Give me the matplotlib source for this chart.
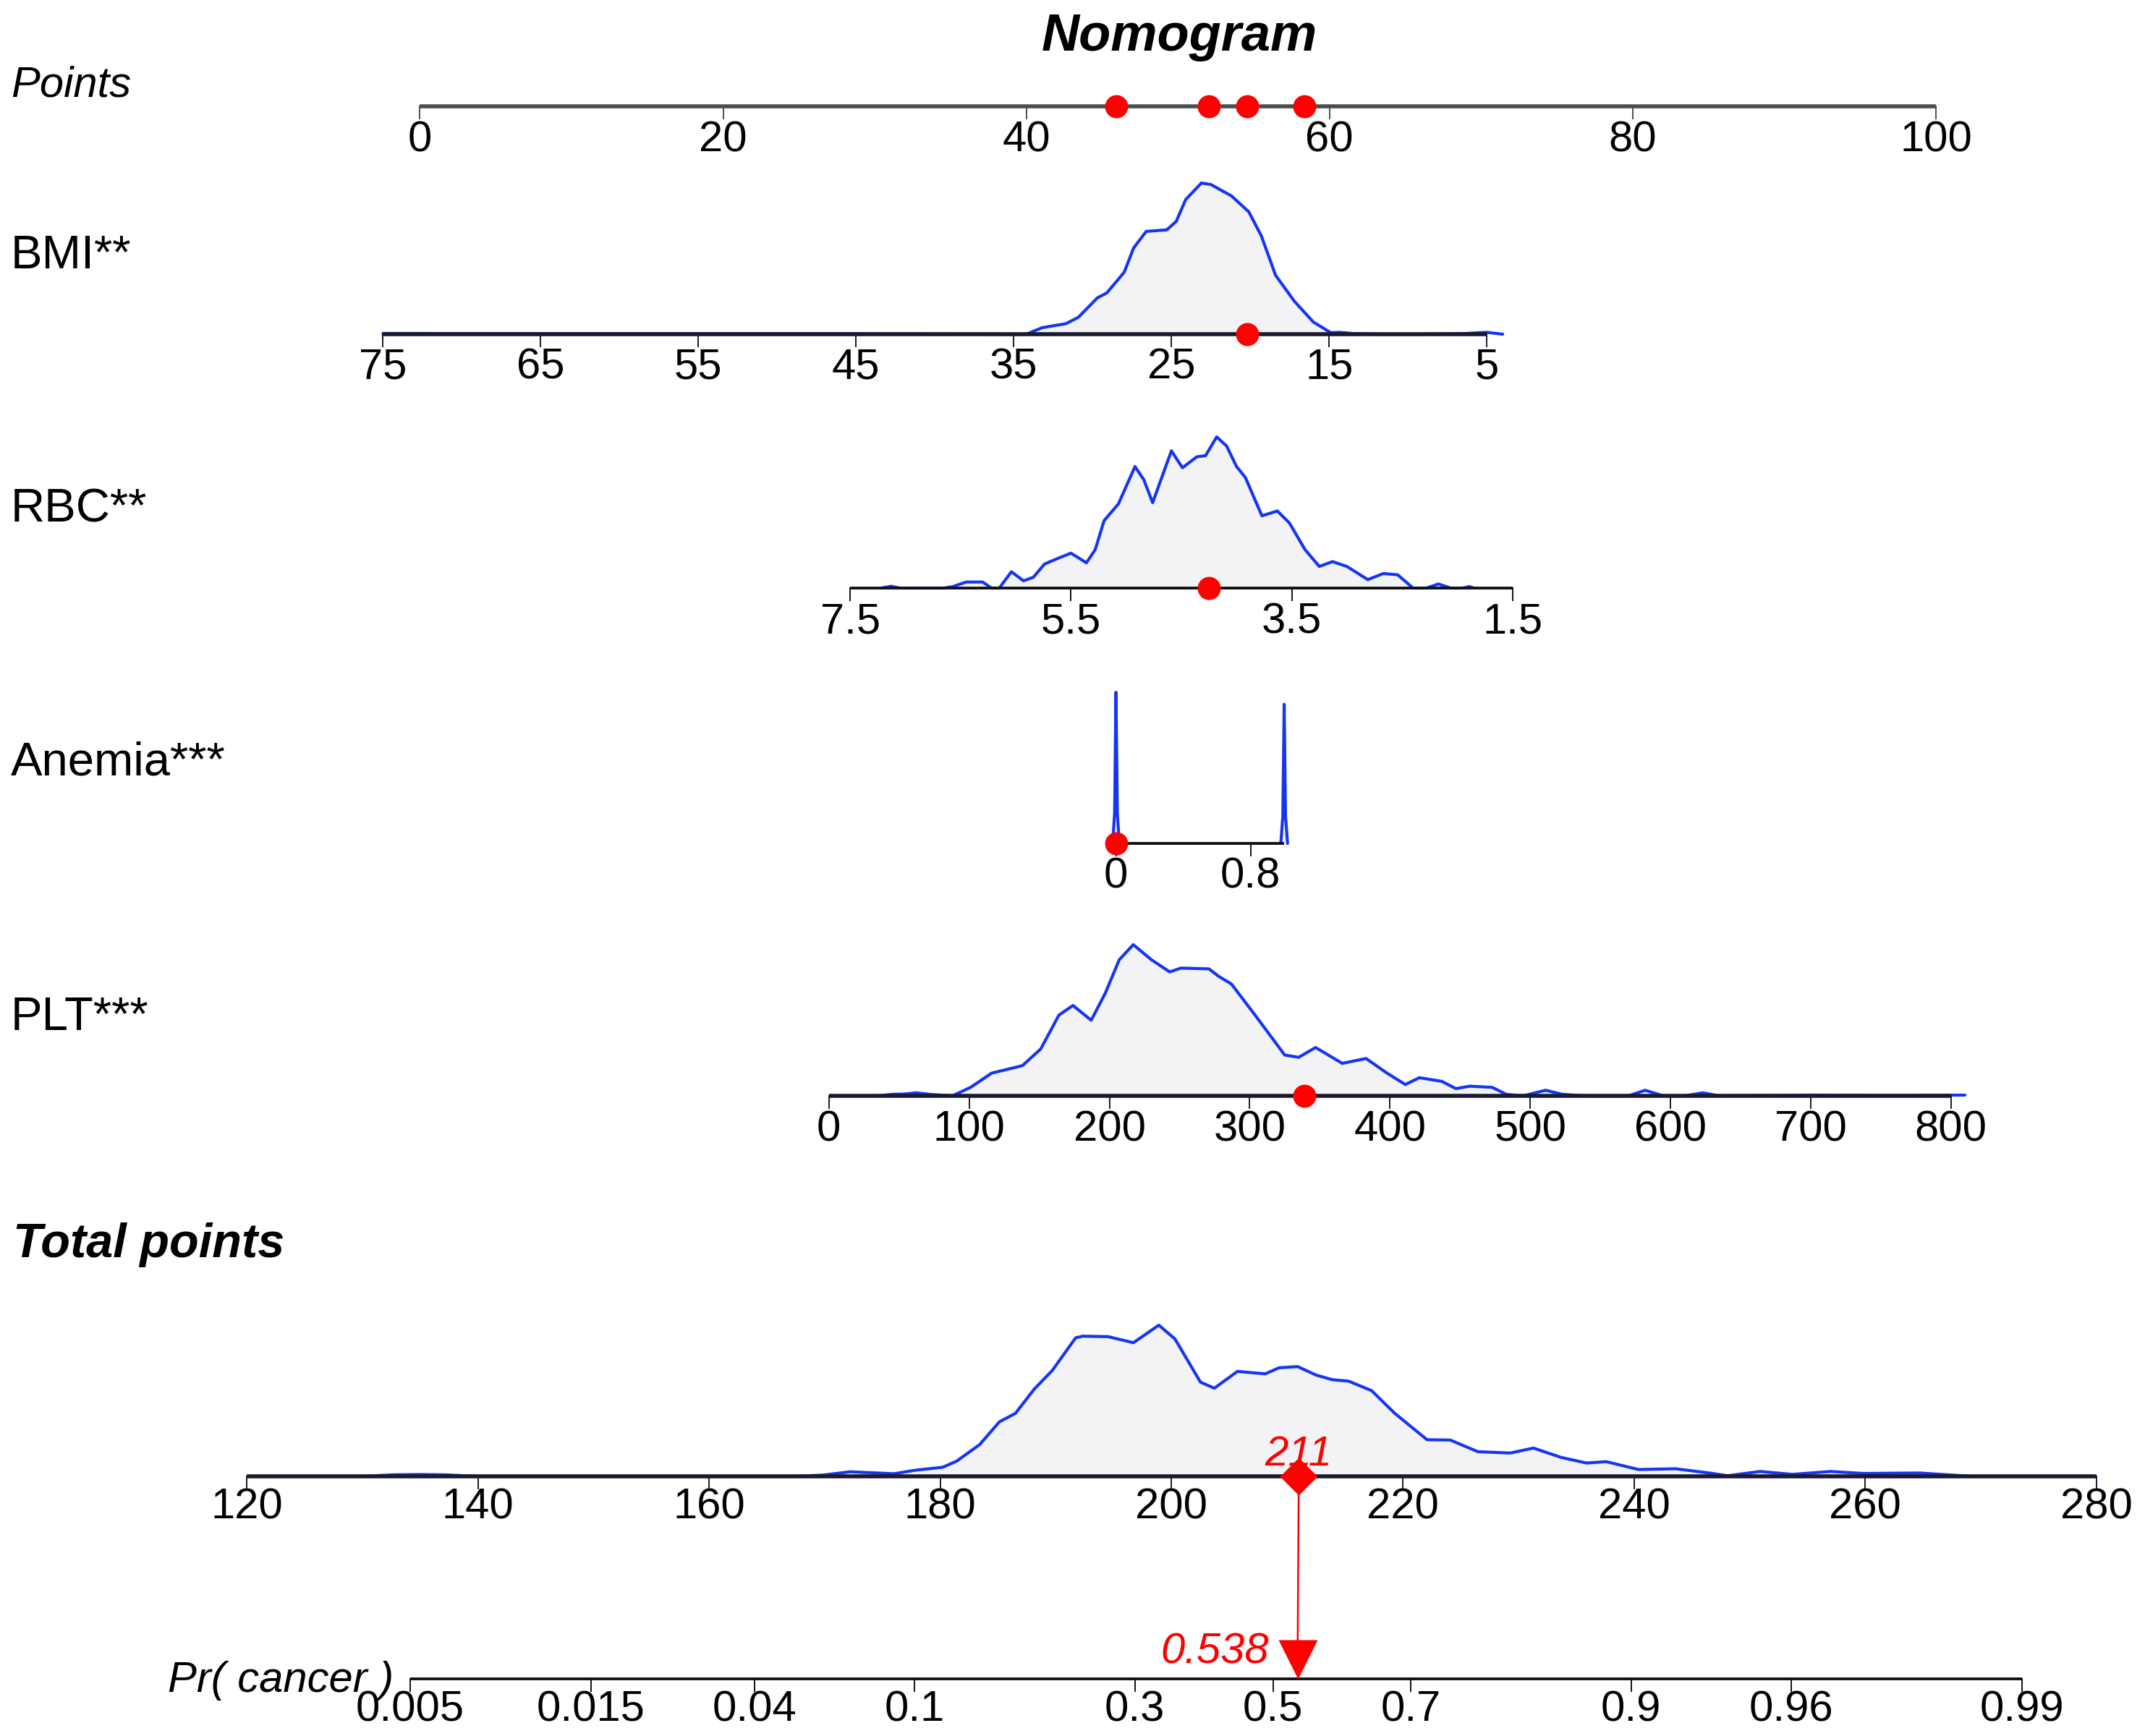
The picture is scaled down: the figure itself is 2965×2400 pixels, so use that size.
import numpy as np
import matplotlib
matplotlib.use('Agg')
import matplotlib.pyplot as plt
from matplotlib.patches import ConnectionPatch
from matplotlib.transforms import offset_copy

plt.rcParams['font.family'] = ['Liberation Sans', 'DejaVu Sans']

# ---------------- data ----------------
title = 'Nomogram'
row_labels = ['Points', 'BMI**', 'RBC**', 'Anemia***', 'PLT***', 'Total points', 'Pr( cancer )']

points_ticks = [0, 20, 40, 60, 80, 100]
bmi_ticks = [75, 65, 55, 45, 35, 25, 15, 5]
rbc_ticks = [7.5, 5.5, 3.5, 1.5]
anemia_ticks = [0, 0.8]
plt_ticks = [0, 100, 200, 300, 400, 500, 600, 700, 800]
total_ticks = [120, 140, 160, 180, 200, 220, 240, 260, 280]
pr_ticks = [0.005, 0.015, 0.04, 0.1, 0.3, 0.5, 0.7, 0.9, 0.96, 0.99]
pr_tick_labels = ['0.005', '0.015', '0.04', '0.1', '0.3', '0.5', '0.7', '0.9', '0.96', '0.99']

# patient values
bmi_value = 20.2
rbc_value = 4.25
anemia_value = 0
plt_value = 339
total_points_value = 211
pr_value = 0.538

# densities (relative height)
bmi_x = [4.0, 5.0, 6.5, 9, 12, 13.5, 14.3, 14.9, 16.0, 17.2, 18.4, 19.3, 20.1, 21.2, 22.5, 23.1,
         24.1, 24.7, 25.3, 26.6, 27.4, 28.0, 29.1, 29.7, 30.9, 31.7, 32.3, 33.2, 34.2, 36, 45, 60, 75]
bmi_d = [0.0, 0.012, 0.004, 0.0, 0.0, 0.004, 0.012, 0.01, 0.08, 0.217, 0.39, 0.65, 0.81, 0.915, 0.99, 1.0,
         0.89, 0.746, 0.69, 0.68, 0.57, 0.409, 0.273, 0.24, 0.112, 0.069, 0.059, 0.043, 0.0, 0.0, 0.003, 0.003, 0.005]

rbc_x = [1.85, 1.89, 1.95, 2.06, 2.17, 2.28, 2.40, 2.54, 2.67, 2.81, 3.0, 3.13, 3.25, 3.38, 3.52, 3.63,
         3.77, 3.92, 4.0, 4.09, 4.18, 4.28, 4.36, 4.49, 4.59, 4.76, 4.84, 4.92, 5.07, 5.20, 5.28, 5.36,
         5.50, 5.61, 5.74, 5.84, 5.93, 6.04, 6.15, 6.22, 6.30, 6.45, 6.57, 6.65, 7.05, 7.13, 7.22]
rbc_d = [0.0, 0.01, 0.0, 0.0, 0.027, 0.0, 0.0, 0.088, 0.096, 0.056, 0.143, 0.175, 0.143, 0.255, 0.43, 0.51,
         0.478, 0.732, 0.804, 0.94, 1.0, 0.876, 0.868, 0.796, 0.908, 0.565, 0.717, 0.804, 0.557, 0.446, 0.255, 0.167,
         0.231, 0.199, 0.159, 0.072, 0.048, 0.108, 0.0, 0.0, 0.04, 0.04, 0.01, 0.0, 0.0, 0.012, 0.0]

anemia_x0 = [-0.02, -0.008, 0.0, 0.008, 0.02]
anemia_d0 = [0.0, 0.2, 1.0, 0.2, 0.0]
anemia_x1 = [0.98, 0.992, 1.0, 1.008, 1.02]
anemia_d1 = [0.0, 0.18, 0.92, 0.18, 0.0]

plt_x = [35, 45, 54, 62, 72, 88, 101, 116, 138, 151, 164, 174, 187, 197, 207, 217, 230, 243, 251, 271,
         278, 287, 305, 325, 335, 347, 366, 383, 398, 411, 421, 437, 447, 457, 473, 483, 495, 511, 523,
         540, 570, 582, 595, 610, 623, 635, 700, 760, 810]
plt_d = [0.0, 0.01, 0.012, 0.02, 0.01, 0.0, 0.056, 0.15, 0.2, 0.31, 0.534, 0.598, 0.5, 0.678, 0.9, 1.0,
         0.9, 0.82, 0.845, 0.84, 0.79, 0.74, 0.52, 0.27, 0.255, 0.32, 0.215, 0.247, 0.15, 0.075, 0.12, 0.096,
         0.048, 0.064, 0.056, 0.01, 0.0, 0.037, 0.01, 0.0, 0.0, 0.037, 0.0, 0.0, 0.02, 0.0, 0.005, 0.003, 0.005]

total_x = [130, 132.7, 135, 137.1, 140, 160, 167.4, 169.8, 172.2, 176.0, 177.8, 180.2, 181.4, 183.4, 185.1,
           186.5, 188.1, 189.7, 191.7, 192.3, 194.5, 196.7, 198.9, 200.3, 202.5, 203.7, 205.7, 208.1, 209.3,
           210.9, 212.5, 213.9, 215.3, 217.3, 219.3, 222.1, 224.1, 226.5, 229.3, 231.3, 233.7, 235.9, 237.6,
           240.4, 243.6, 246.5, 248.1, 250.9, 253.7, 257.0, 259.8, 264.7, 269.2]
total_d = [0.0, 0.01, 0.012, 0.01, 0.0, 0.0, 0.0, 0.008, 0.03, 0.017, 0.04, 0.06, 0.1, 0.21, 0.36,
           0.417, 0.575, 0.702, 0.916, 0.927, 0.924, 0.884, 1.0, 0.908, 0.623, 0.583, 0.694, 0.678, 0.718,
           0.726, 0.67, 0.639, 0.63, 0.567, 0.417, 0.242, 0.24, 0.163, 0.154, 0.187, 0.125, 0.088, 0.097,
           0.045, 0.05, 0.022, 0.004, 0.032, 0.013, 0.032, 0.019, 0.022, 0.0]

# ---------------- layout / style ----------------
W, H, DPI = 2965, 2400, 100
DENS_H = 209.0          # pixel height of a density peak
BLUE = '#1535F5'
FILL = '#F3F2F4'
RED = '#FF0000'
TICK_FS = 43

fig = plt.figure(figsize=(W / DPI, H / DPI), dpi=DPI)
fig.patch.set_facecolor('white')


def logit(p):
    return np.log(p / (1 - p))


def expit(z):
    return 1 / (1 + np.exp(-z))


def make_row(baseline, v1, x1, v2, x2, scale='linear'):
    ax = fig.add_axes([0, (H - baseline) / H, 1, DENS_H / H])
    ax.set_ylim(0, 1)
    if scale == 'logit':
        f, finv = logit, expit
        ax.set_xscale('logit')
    else:
        f = finv = (lambda v: v)
    b = (x2 - x1) / (f(v2) - f(v1))
    a = x1 - b * f(v1)
    ax.set_xlim(finv((0 - a) / b), finv((W - a) / b))
    ax.axis('off')
    ax.patch.set_alpha(0)
    return ax


def draw_axis(ax, lo, hi, ticks, labels, lw=3.2, color='#111111', label_gap=19, tick_len=17):
    ax.plot([lo, hi], [0, 0], color=color, lw=lw, solid_capstyle='butt', zorder=3, clip_on=False)
    tl = tick_len / DENS_H
    for t, lab in zip(ticks, labels):
        ax.plot([t, t], [0, -tl], color=color, lw=1.4, zorder=3, clip_on=False)
        ax.text(t, -label_gap / DENS_H, lab, ha='center', va='top', fontsize=TICK_FS, color='black')


def draw_density(ax, xs, ds):
    ax.fill_between(xs, 0, ds, color=FILL, lw=0, zorder=1)
    ax.plot(xs, ds, color=BLUE, lw=3.0, zorder=2, clip_on=False,
            solid_joinstyle='round', solid_capstyle='round')


def fmt(v):
    return ('%g' % v)


# rows
ax_pts = make_row(147, 0, 580.5, 100, 2676)
ax_bmi = make_row(462, 25, 1619.3, 15, 1837.3)
ax_rbc = make_row(813, 7.5, 1175.3, 1.5, 2090.6)
ax_an = make_row(1166, 0, 1542.6, 0.8, 1728.6)
ax_plt = make_row(1515, 0, 1145.8, 800, 2696.7)
ax_tot = make_row(2041, 120, 341, 280, 2897.9)
ax_pr = make_row(2321, 0.005, 566.7, 0.99, 2795, scale='logit')

# points axis
draw_axis(ax_pts, 0, 100, points_ticks, [fmt(t) for t in points_ticks], lw=4.0, color='#4d4d4d')

# BMI
draw_density(ax_bmi, bmi_x, bmi_d)
draw_axis(ax_bmi, 75, 5, bmi_ticks, [fmt(t) for t in bmi_ticks], lw=4.0, color='#1a1a2e')
# RBC
draw_density(ax_rbc, rbc_x, rbc_d)
draw_axis(ax_rbc, 7.5, 1.5, rbc_ticks, [fmt(t) for t in rbc_ticks], lw=2.8)
# Anemia
draw_density(ax_an, anemia_x0, anemia_d0)
draw_density(ax_an, anemia_x1, anemia_d1)
draw_axis(ax_an, 0, 1, anemia_ticks, [fmt(t) for t in anemia_ticks], lw=2.8)
# PLT
draw_density(ax_plt, plt_x, plt_d)
draw_axis(ax_plt, 0, 800, plt_ticks, [fmt(t) for t in plt_ticks], lw=4.0, color='#1a1a2e')
# Total points
draw_density(ax_tot, total_x, total_d)
draw_axis(ax_tot, 120, 280, total_ticks, [fmt(t) for t in total_ticks], lw=4.0, color='#1a1a2e',
          label_gap=15)
# Probability
draw_axis(ax_pr, 0.005, 0.99, pr_ticks, pr_tick_labels, lw=2.8, label_gap=15)

# patient markers on variable rows and their points on the Points axis
var_axes = [ax_bmi, ax_rbc, ax_an, ax_plt]
var_values = [bmi_value, rbc_value, anemia_value, plt_value]
inv_pts = ax_pts.transData.inverted()
for ax, v in zip(var_axes, var_values):
    ax.plot([v], [0], 'o', ms=23, color=RED, mec='none', zorder=6, clip_on=False)
    xd = ax.transData.transform((v, 0))[0]
    pts = inv_pts.transform((xd, 0))[0]
    ax_pts.plot([pts], [0], 'o', ms=23, color=RED, mec='none', zorder=6, clip_on=False)

# total points diamond, arrow and probability
ax_tot.plot([total_points_value], [0], 'D', ms=26, color=RED, mec='none', zorder=6, clip_on=False)
ax_tot.text(total_points_value, 15 / DENS_H, str(total_points_value), ha='center', va='baseline',
            fontsize=42, style='italic', color=RED, zorder=7)
tri_y = 27 / DENS_H
ax_pr.plot([pr_value], [tri_y], 'v', ms=39, color=RED, mec='none', zorder=6, clip_on=False)
con = ConnectionPatch(xyA=(total_points_value, 0), coordsA=ax_tot.transData,
                      xyB=(pr_value, 2 * tri_y), coordsB=ax_pr.transData,
                      color=RED, lw=1.8, zorder=5)
fig.add_artist(con)
ax_pr.text(pr_value, 22 / DENS_H, '%.3f' % pr_value, ha='right', va='baseline', fontsize=43,
           style='italic', color=RED,
           transform=offset_copy(ax_pr.transData, fig=fig, x=-40, y=0, units='dots'))

# titles / row labels
fig.text(1630 / W, 1 - 70 / H, title, ha='center', va='baseline', fontsize=52,
         fontweight='bold', style='italic')
label_specs = [
    (15, 133, 43, 'normal', 'italic'),
    (15, 371, 47, 'normal', 'normal'),
    (15, 722, 47, 'normal', 'normal'),
    (15, 1072, 47, 'normal', 'normal'),
    (15, 1424, 47, 'normal', 'normal'),
    (18, 1738, 48, 'bold', 'italic'),
    (232, 2339, 43, 'normal', 'italic'),
]
for lab, (x, y, fs, fw, st) in zip(row_labels, label_specs):
    fig.text(x / W, 1 - y / H, lab, ha='left', va='baseline', fontsize=fs, fontweight=fw, style=st)

fig.savefig('out.png', dpi=DPI, facecolor='white')
